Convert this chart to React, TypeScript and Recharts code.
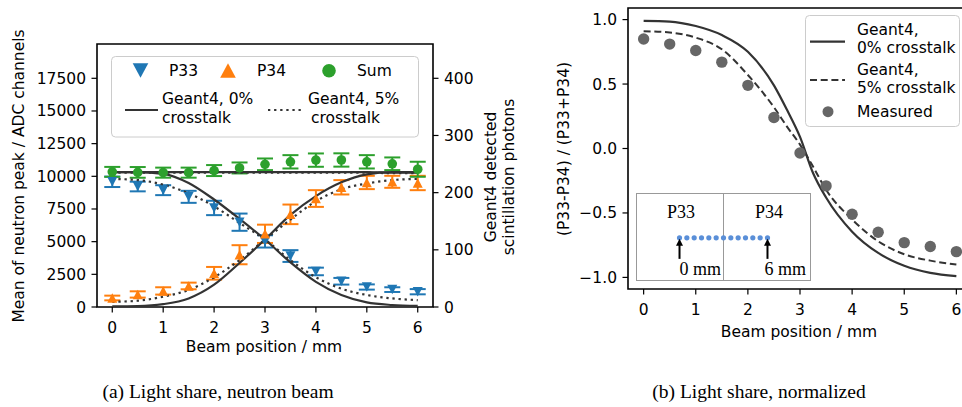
import React from "react";
import {
  ComposedChart,
  Scatter,
  Line,
  XAxis,
  YAxis,
  ErrorBar,
  ReferenceArea,
  ReferenceLine,
} from "recharts";

// beam positions (mm)
const positions = [0, 0.5, 1, 1.5, 2, 2.5, 3, 3.5, 4, 4.5, 5, 5.5, 6];
const xTicks = [0, 1, 2, 3, 4, 5, 6];

// (a) mean of neutron peak, ADC channels
const p33 = [9580, 9220, 8940, 8430, 7580, 6490, 5020, 3900, 2720, 1970, 1530, 1330, 1170];
const p33Err = [400, 370, 380, 460, 550, 660, 470, 450, 290, 255, 200, 180, 200];
const p34 = [690, 960, 1230, 1610, 2580, 4000, 5600, 7090, 8300, 9160, 9530, 9580, 9490];
const p34Err = [180, 240, 280, 255, 485, 730, 700, 750, 640, 550, 510, 460, 550];
const sumAdc = [10340, 10300, 10280, 10280, 10440, 10640, 10920, 11110, 11240, 11250, 11110, 10960, 10540];
const sumErr = [380, 410, 385, 385, 420, 420, 445, 510, 510, 510, 510, 485, 575];
const adcTicks = [0, 2500, 5000, 7500, 10000, 12500, 15000, 17500];

// (a) Geant4 detected scintillation photons
const g4P33 = [236, 236, 233, 217, 188, 154, 118, 78, 44, 21, 8, 3.5, 2];
const g4P34 = [1, 1.5, 5, 15, 39, 77, 118, 161, 194, 218, 232, 236, 236];
const g4Sum = [236, 236, 236, 236, 236, 236, 236, 236, 236, 236, 236, 235, 235];
const g4xtP33 = [224, 222, 214, 199, 176, 147, 118, 82, 52, 32, 21, 15, 12];
const g4xtP34 = [9, 11, 18, 30, 52, 82, 118, 153, 185, 206, 216, 222, 224];
const g4xtSum = [235, 235, 235, 235, 235, 235, 235, 235, 235, 235, 235, 234, 234];
const photonTicks = [0, 100, 200, 300, 400];

// (b) normalized light share
const ratioPositions = [0, 0.5, 1, 1.5, 2, 2.5, 2.75, 3, 3.25, 3.5, 4, 4.5, 5, 5.5, 6];
const ratioG4 = [0.99, 0.985, 0.95, 0.88, 0.75, 0.49, 0.3, 0.09, -0.19, -0.38, -0.645, -0.81, -0.91, -0.965, -0.99];
const ratioG4xt = [0.91, 0.9, 0.86, 0.77, 0.57, 0.32, 0.17, 0.03, -0.14, -0.32, -0.55, -0.72, -0.82, -0.87, -0.9];
const ratioMeasured = [0.85, 0.81, 0.76, 0.67, 0.49, 0.24, -0.035, -0.29, -0.51, -0.65, -0.73, -0.76, -0.8];
const ratioTicks = [-1, -0.5, 0, 0.5, 1];

// inset: scan points and the two marked ends
const arrowMarks = [0, 6];

const FONT = "DejaVu Sans";
const SERIF = "Liberation Serif";
const BLUE = "#1f77b4";
const ORANGE = "#ff7f0e";
const GREEN = "#2ca02c";
const SIM = "#333333";
const GRAY = "#666666";
const DOTTED = "2.3 3.8";
const DASHED = "7 3.7";

const rows = (xs: number[], key: string, ys: number[], errs?: number[]) =>
  xs.map((x, i) => ({ x, [key]: ys[i], err: errs ? errs[i] : 0 }));

const tickStyle = { fontSize: 15.5, fill: "#000", fontFamily: FONT };
const tickLine = { stroke: "#000", strokeWidth: 1.2 };

const triDown = (color: string, hw: number, h: number) => (p: any) => (
  <path
    d={`M${p.cx - hw},${p.cy - h / 2}L${p.cx + hw},${p.cy - h / 2}L${p.cx},${p.cy + h / 2}Z`}
    fill={color}
  />
);
const triUp = (color: string, hw: number, h: number) => (p: any) => (
  <path
    d={`M${p.cx - hw},${p.cy + h / 2}L${p.cx + hw},${p.cy + h / 2}L${p.cx},${p.cy - h / 2}Z`}
    fill={color}
  />
);
const dot = (color: string, r: number) => (p: any) => <circle cx={p.cx} cy={p.cy} r={r} fill={color} />;
const arrowUp = (p: any) => (
  <g>
    <line x1={p.cx} y1={p.cy + 21} x2={p.cx} y2={p.cy + 7} stroke="#000" strokeWidth={2} />
    <path d={`M${p.cx - 3.5},${p.cy + 8}L${p.cx + 3.5},${p.cy + 8}L${p.cx},${p.cy + 1}Z`} fill="#000" />
  </g>
);

const fmtRatio = (v: number) => (v < 0 ? "\u2212" : "") + Math.abs(v).toFixed(1);

function LightShareChart() {
  return (
    <ComposedChart width={500} height={360} margin={{ top: 44, right: 0, bottom: 0, left: 0 }}>
      <XAxis
        dataKey="x"
        type="number"
        domain={[-0.3, 6.3]}
        ticks={xTicks}
        allowDataOverflow
        height={53}
        tick={tickStyle}
        tickSize={5.5}
        tickMargin={9.5}
        tickLine={tickLine}
        axisLine={false}
      />
      <YAxis
        yAxisId="adc"
        type="number"
        domain={[0, 20125]}
        ticks={adcTicks}
        allowDataOverflow
        width={97}
        tick={tickStyle}
        tickSize={5.5}
        tickMargin={5.5}
        tickLine={tickLine}
        axisLine={false}
      />
      <YAxis
        yAxisId="photons"
        orientation="right"
        type="number"
        domain={[0, 460]}
        ticks={photonTicks}
        allowDataOverflow
        width={67}
        tick={tickStyle}
        tickSize={5.5}
        tickMargin={5.5}
        tickLine={tickLine}
        axisLine={false}
      />
      <Scatter yAxisId="adc" data={rows(positions, "p33", p33, p33Err)} dataKey="p33" shape={triDown(BLUE, 5, 9.5)} isAnimationActive={false}>
        <ErrorBar dataKey="err" direction="y" width={8} stroke={BLUE} strokeWidth={2} />
      </Scatter>
      <Scatter yAxisId="adc" data={rows(positions, "p34", p34, p34Err)} dataKey="p34" shape={triUp(ORANGE, 5, 9.5)} isAnimationActive={false}>
        <ErrorBar dataKey="err" direction="y" width={8} stroke={ORANGE} strokeWidth={2} />
      </Scatter>
      <Scatter yAxisId="adc" data={rows(positions, "sum", sumAdc, sumErr)} dataKey="sum" shape={dot(GREEN, 4.8)} isAnimationActive={false}>
        <ErrorBar dataKey="err" direction="y" width={8} stroke={GREEN} strokeWidth={2} />
      </Scatter>
      <Line yAxisId="photons" data={rows(positions, "g0a", g4P33)} dataKey="g0a" type="monotone" stroke={SIM} strokeWidth={2.2} dot={false} isAnimationActive={false} />
      <Line yAxisId="photons" data={rows(positions, "g0b", g4P34)} dataKey="g0b" type="monotone" stroke={SIM} strokeWidth={2.2} dot={false} isAnimationActive={false} />
      <Line yAxisId="photons" data={rows(positions, "g0s", g4Sum)} dataKey="g0s" type="monotone" stroke={SIM} strokeWidth={2.2} dot={false} isAnimationActive={false} />
      <Line yAxisId="photons" data={rows(positions, "g5a", g4xtP33)} dataKey="g5a" type="monotone" stroke={SIM} strokeWidth={2.2} strokeDasharray={DOTTED} dot={false} isAnimationActive={false} />
      <Line yAxisId="photons" data={rows(positions, "g5b", g4xtP34)} dataKey="g5b" type="monotone" stroke={SIM} strokeWidth={2.2} strokeDasharray={DOTTED} dot={false} isAnimationActive={false} />
      <Line yAxisId="photons" data={rows(positions, "g5s", g4xtSum)} dataKey="g5s" type="monotone" stroke={SIM} strokeWidth={2.2} strokeDasharray={DOTTED} dot={false} isAnimationActive={false} />
      <ReferenceArea yAxisId="adc" x1={-0.3} x2={6.3} y1={0} y2={20125} fill="none" stroke="#000" strokeWidth={1.6} ifOverflow="visible" />
    </ComposedChart>
  );
}

function NormalizedChart() {
  return (
    <ComposedChart width={440} height={360} margin={{ top: 8, right: 8, bottom: 0, left: 0 }}>
      <XAxis
        dataKey="x"
        type="number"
        domain={[-0.3, 6.3]}
        ticks={xTicks}
        allowDataOverflow
        height={71}
        tick={tickStyle}
        tickSize={5.5}
        tickMargin={9.5}
        tickLine={tickLine}
        axisLine={false}
      />
      <YAxis
        type="number"
        domain={[-1.09, 1.09]}
        ticks={ratioTicks}
        tickFormatter={fmtRatio}
        allowDataOverflow
        width={88}
        tick={tickStyle}
        tickSize={5.5}
        tickMargin={5.5}
        tickLine={tickLine}
        axisLine={false}
      />
      <Line data={rows(ratioPositions, "r0", ratioG4)} dataKey="r0" type="monotone" stroke={SIM} strokeWidth={2.2} dot={false} isAnimationActive={false} />
      <Line data={rows(ratioPositions, "r5", ratioG4xt)} dataKey="r5" type="monotone" stroke={SIM} strokeWidth={2} strokeDasharray={DASHED} dot={false} isAnimationActive={false} />
      <Scatter data={rows(positions, "rm", ratioMeasured)} dataKey="rm" shape={dot(GRAY, 5.7)} isAnimationActive={false} />
      <ReferenceArea x1={-0.3} x2={6.3} y1={-1.09} y2={1.09} fill="none" stroke="#000" strokeWidth={1.6} ifOverflow="visible" />
    </ComposedChart>
  );
}

function Inset() {
  const label = { position: "absolute" as const, fontFamily: SERIF, fontSize: 18, lineHeight: "18px", whiteSpace: "nowrap" as const };
  return (
    <div
      style={{
        position: "absolute",
        left: 636,
        top: 193,
        width: 175,
        height: 88,
        boxSizing: "border-box",
        border: "1px solid #999",
        background: "#fff",
      }}
    >
      <ComposedChart width={173} height={86} margin={{ top: 0, right: 0, bottom: 0, left: 0 }}>
        <XAxis dataKey="x" type="number" domain={[-2.9, 8.9]} hide />
        <YAxis type="number" domain={[0, 1]} hide />
        <ReferenceLine x={3} stroke="#999" strokeWidth={1} />
        <Scatter data={rows(positions, "yb", positions.map(() => 0.49))} dataKey="yb" shape={dot("#5a8fd8", 2.6)} isAnimationActive={false} />
        <Scatter data={rows(arrowMarks, "ya", arrowMarks.map(() => 0.49))} dataKey="ya" shape={arrowUp} isAnimationActive={false} />
      </ComposedChart>
      <div style={{ ...label, left: 44, top: 9, transform: "translateX(-50%)" }}>P33</div>
      <div style={{ ...label, left: 132, top: 9, transform: "translateX(-50%)" }}>P34</div>
      <div style={{ ...label, right: 175 - 2 - 84, top: 66 }}>0 mm</div>
      <div style={{ ...label, right: 175 - 2 - 169, top: 66 }}>6 mm</div>
    </div>
  );
}

function Overlay() {
  const t = { fontFamily: FONT, fontSize: 15.5, fill: "#000", dominantBaseline: "central" as const };
  const cap = { fontFamily: SERIF, fontSize: 19.5, fill: "#000", textAnchor: "middle" as const };
  return (
    <svg width={962} height={407} style={{ position: "absolute", left: 0, top: 0, pointerEvents: "none" }}>
      {/* axis titles */}
      <text {...t} x={19} y={176} textAnchor="middle" transform="rotate(-90 19 176)">
        Mean of neutron peak / ADC channels
      </text>
      <text {...t} x={491} y={177} textAnchor="middle" transform="rotate(-90 491 177)">
        Geant4 detected
      </text>
      <text {...t} x={509} y={177} textAnchor="middle" transform="rotate(-90 509 177)">
        scintillation photons
      </text>
      <text {...t} x={264} y={347} textAnchor="middle">Beam position / mm</text>
      <text {...t} x={564} y={149} textAnchor="middle" transform="rotate(-90 564 149)">
        (P33-P34) / (P33+P34)
      </text>
      <text {...t} x={799} y={332} textAnchor="middle">Beam position / mm</text>

      {/* legend (a) */}
      <rect x={111.5} y={56.5} width={307} height={80.5} rx={4} fill="#fff" fillOpacity={0.8} stroke="#cccccc" />
      <path d="M132.7,63.2L148.3,63.2L140.5,77.8Z" fill={BLUE} />
      <text {...t} x={169} y={71}>P33</text>
      <path d="M220.2,77.8L235.8,77.8L228,63.2Z" fill={ORANGE} />
      <text {...t} x={257} y={71}>P34</text>
      <circle cx={329} cy={70.7} r={6.8} fill={GREEN} />
      <text {...t} x={357} y={71}>Sum</text>
      <line x1={125} y1={110} x2={158} y2={110} stroke={SIM} strokeWidth={2.2} />
      <text {...t} x={162} y={99}>Geant4, 0%</text>
      <text {...t} x={162} y={118}>crosstalk</text>
      <line x1={268} y1={110} x2={301} y2={110} stroke={SIM} strokeWidth={2.2} strokeDasharray={DOTTED} />
      <text {...t} x={308} y={99}>Geant4, 5%</text>
      <text {...t} x={311} y={118}>crosstalk</text>

      {/* legend (b) */}
      <rect x={805.5} y={15.5} width={154} height={111} rx={4} fill="#fff" fillOpacity={0.8} stroke="#cccccc" />
      <line x1={810} y1={41.7} x2={845} y2={41.7} stroke={SIM} strokeWidth={2.2} />
      <text {...t} x={857} y={30}>Geant4,</text>
      <text {...t} x={857} y={48}>0% crosstalk</text>
      <line x1={810} y1={80} x2={845} y2={80} stroke={SIM} strokeWidth={2} strokeDasharray={DASHED} />
      <text {...t} x={857} y={70}>Geant4,</text>
      <text {...t} x={857} y={88}>5% crosstalk</text>
      <circle cx={828} cy={111.7} r={5.5} fill={GRAY} />
      <text {...t} x={857} y={111.7}>Measured</text>

      {/* captions */}
      <text {...cap} x={218} y={398}>(a) Light share, neutron beam</text>
      <text {...cap} x={759} y={398}>(b) Light share, normalized</text>
    </svg>
  );
}

export default function App() {
  return (
    <div
      style={{
        position: "absolute",
        left: 0,
        top: 0,
        width: 962,
        height: 407,
        overflow: "hidden",
        background: "#fff",
        fontFamily: FONT,
      }}
    >
      <div style={{ position: "absolute", left: 0, top: 0 }}>
        <LightShareChart />
      </div>
      <div style={{ position: "absolute", left: 540, top: 0 }}>
        <NormalizedChart />
      </div>
      <Inset />
      <Overlay />
    </div>
  );
}
